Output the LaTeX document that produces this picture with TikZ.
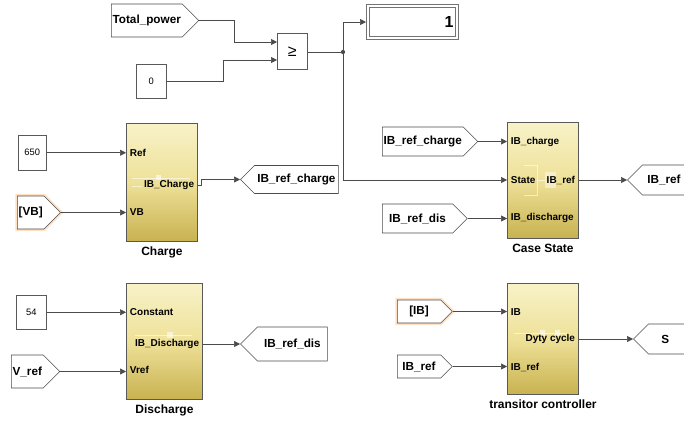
\documentclass[tikz,border=0pt]{standalone}
\usepackage{fontspec}
\setmainfont{Liberation Sans}
\usetikzlibrary{shapes.symbols,arrows.meta}
\definecolor{blktop}{RGB}{248,242,200}
\definecolor{blkmid}{RGB}{238,225,152}
\definecolor{blkbot}{RGB}{200,178,80}
\definecolor{wirec}{RGB}{75,75,75}

\begin{document}
\begin{tikzpicture}[x=0.75pt,y=-0.75pt,
    sig/.style={draw=wirec,line width=0.5pt,-{Triangle[length=4.5pt,width=4.5pt]}},
    subsys/.style={draw=black!65,line width=0.7pt,top color=blktop,bottom color=blkbot,middle color=blkmid,anchor=north west,inner sep=0pt},
    const/.style={draw=black!65,fill=white,anchor=north west,inner sep=0pt,font=\fontsize{7}{8}\selectfont},
    fromtag/.style={signal,signal to=east,signal pointer angle=90,draw=black!70,fill=white,anchor=west,inner sep=1pt,font=\fontsize{8.8}{10}\selectfont\bfseries},
    gototag/.style={signal,signal to=west,signal pointer angle=90,draw=black!70,fill=white,anchor=west,inner sep=1pt,font=\fontsize{8.8}{10}\selectfont\bfseries},
    port/.style={inner sep=0.5pt,font=\fontsize{7.5}{8}\selectfont\bfseries},
    lbl/.style={inner sep=0pt,anchor=north,font=\fontsize{9}{10}\selectfont\bfseries},
    glow/.style={preaction={draw=orange!70,line width=3pt,opacity=0.35}},
    faint/.style={draw=white,line width=0.5pt,opacity=0.6}
  ]
  \useasboundingbox (0,0) rectangle (684,423);

  % compare and display
  \node[fromtag,minimum width=60pt,minimum height=24.75pt] (tp) at (111,20.5) {Total\_power};
  \node[const,minimum width=22.5pt,minimum height=25.5pt] (k0) at (136,64) {0};
  \node[const,font=\fontsize{12}{12}\selectfont,minimum width=22.5pt,minimum height=27pt] (cmp) at (277,33) {≥};
  \coordinate (cmpin1) at (277,42);
  \coordinate (cmpin2) at (277,60);
  \coordinate (split) at (343,52);
  \node[const,draw=black!55,line width=0.8pt,minimum width=69pt,minimum height=26.25pt] (disp) at (366,4) {};
  \node[draw=black!55,line width=0.5pt,minimum width=64.5pt,minimum height=21.75pt,inner sep=0pt] (dispin) at (disp.center) {};
  \node[anchor=east,inner sep=1.5pt,font=\fontsize{12}{12}\selectfont\bfseries] (dispval) at (dispin.east) {1};

  \draw[sig] (tp.east) -- ++(35,0) |- (cmpin1);
  \draw[sig] (k0.east) -- ++(57,0) |- (cmpin2);
  \draw[draw=wirec,line width=0.5pt] (cmp.east |- split) -- (split);
  \fill[wirec] (split) circle (1.6pt);
  \draw[sig] (split) |- (disp.west);

  % Charge
  \node[const,minimum width=21pt,minimum height=26.25pt] (k650) at (18,135) {650};
  \node[fromtag,glow,minimum width=29.25pt,minimum height=24.75pt] (vb) at (17,212.5) {[VB]};
  \node[subsys,minimum width=53.25pt,minimum height=88.5pt] (charge) at (126,123) {};
  \node[lbl] (lcharge) at ([yshift=-3.5pt]charge.south) {Charge};
  \node[port,anchor=west] (pref) at (129,153) {Ref};
  \node[port,anchor=west] (pvb) at (129,212) {VB};
  \draw[faint] (132,178) -- (190,178) (132,186) -- (142,186);
  \fill[white,opacity=0.6] (156,175) rectangle (161,180);
  \node[port,anchor=east] (pchout) at (195,185) {IB\_Charge};
  \node[gototag,minimum width=73.5pt,minimum height=21pt] (gcharge) at (240,179.5) {IB\_ref\_charge};

  \draw[sig] (k650) -- (charge.west |- k650);
  \draw[sig] (vb.east) -- (charge.west |- vb.east);
  \draw[sig] (charge.east |- pchout) -- ++(3,0) |- (gcharge.west);

  % Discharge
  \node[const,minimum width=22.5pt,minimum height=25.5pt] (k54) at (16,295) {54};
  \node[fromtag,minimum width=29.25pt,minimum height=24.75pt] (vref) at (11,371.5) {V\_ref};
  \node[subsys,minimum width=57pt,minimum height=87pt] (discharge) at (126,283) {};
  \node[lbl] (ldischarge) at ([yshift=-3.5pt]discharge.south) {Discharge};
  \node[port,anchor=west] (pconst) at (129,312) {Constant};
  \node[port,anchor=west] (pvref) at (129,370) {Vref};
  \draw[faint] (135,335) -- (192,335);
  \fill[white,opacity=0.6] (167,332) rectangle (173,338);
  \node[port,anchor=east] (pdisout) at (200,344) {IB\_Discharge};
  \node[gototag,minimum width=65.25pt,minimum height=25.5pt] (gdis) at (240,344) {IB\_ref\_dis};

  \draw[sig] (k54) -- (discharge.west |- k54);
  \draw[sig] (vref.east) -- (discharge.west |- vref.east);
  \draw[sig] (discharge.east |- pdisout) -- (gdis.west);

  % Case State
  \node[fromtag,minimum width=67.5pt,minimum height=21.75pt] (fcharge) at (382,141.5) {IB\_ref\_charge};
  \node[fromtag,minimum width=63.75pt,minimum height=21.75pt] (fdis) at (382,218.5) {IB\_ref\_dis};
  \node[subsys,minimum width=53.25pt,minimum height=87pt] (case) at (507,122) {};
  \node[lbl] (lcase) at ([yshift=-3.5pt]case.south) {Case State};
  \draw[faint] (524,165) -- (537,165) -- (537,195) -- (524,195) (537,180) -- (545,180);
  \fill[white,opacity=0.45] (545,172) rectangle (556,188);
  \node[port,anchor=west] (pibc) at (510,142) {IB\_charge};
  \node[port,anchor=west] (pstate) at (510,180) {State};
  \node[port,anchor=west] (pibd) at (510,218) {IB\_discharge};
  \node[port,anchor=east] (pcaseout) at (576,180) {IB\_ref};
  \node[gototag,text width=37.5pt,align=left,inner xsep=3.75pt,minimum height=22.5pt] (gref) at (627,180) {IB\_ref};

  \draw[sig] (fcharge.east) -- (case.west |- fcharge.east);
  \draw[sig] (split) |- (case.west |- pstate);
  \draw[sig] (fdis.east) -- (case.west |- fdis.east);
  \draw[sig] (case.east |- pcaseout) -- (gref.west);

  % transitor controller
  \node[fromtag,glow,minimum width=41.25pt,minimum height=17.25pt] (fib) at (397,311.5) {[IB]};
  \node[fromtag,minimum width=41.25pt,minimum height=17.25pt] (fibref) at (397,366.5) {IB\_ref};
  \node[subsys,minimum width=53.25pt,minimum height=83.25pt] (ctrl) at (507,283) {};
  \node[lbl] (lctrl) at ([yshift=-3.5pt]ctrl.south) {transitor controller};
  \draw[faint] (514,333) -- (570,333);
  \fill[white,opacity=0.6] (540,330) rectangle (545,336) (555,330) rectangle (560,336);
  \node[port,anchor=west] (pib) at (510,312) {IB};
  \node[port,anchor=west] (pibr) at (510,367) {IB\_ref};
  \node[port,anchor=east] (pduty) at (576,339) {Dyty cycle};
  \node[gototag,text width=30pt,align=left,inner xsep=9.75pt,minimum height=22.5pt] (gs) at (633,339) {S};

  \draw[sig] (fib.east) -- (ctrl.west |- fib.east);
  \draw[sig] (fibref.east) -- (ctrl.west |- fibref.east);
  \draw[sig] (ctrl.east |- pduty) -- (gs.west);

\end{tikzpicture}
\end{document}
